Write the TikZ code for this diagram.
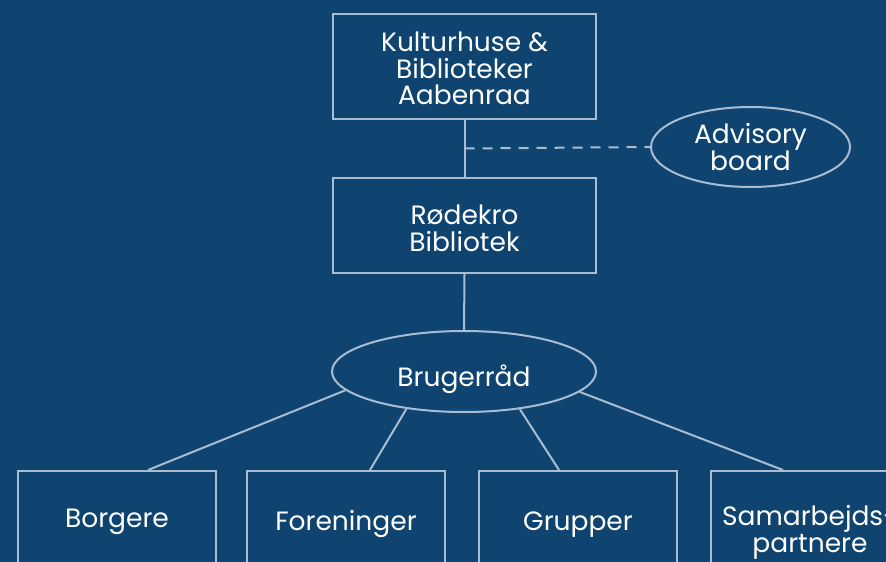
\documentclass[tikz,border=0pt]{standalone}
\usepackage{fontspec}
\setmainfont{Poppins}
\usetikzlibrary{shapes.geometric,calc}
\definecolor{bg}{HTML}{0F4470}
\definecolor{ln}{HTML}{A9BDD2}
\tikzset{
  txt/.style={text=white, font=\fontsize{26.5}{26.5}\selectfont, align=center, inner sep=0pt, text depth=0pt},
  box/.style={txt, draw=ln, line width=2pt, minimum width=263pt},
  lowbox/.style={txt, draw=ln, line width=2pt, minimum width=198pt, minimum height=98pt},
  oval/.style={txt, ellipse, draw=ln, line width=2pt},
  link/.style={draw=ln, line width=2pt}
}
\begin{document}
\begin{tikzpicture}[x=1pt,y=-1pt]
\useasboundingbox (0,0) rectangle (886,562);
\fill[bg] (0,0) rectangle (886,562);
\clip (0,0) rectangle (886,562);
\node[box, minimum height=105pt, text height=76pt] (top) at (464.5,66.5) {Kulturhuse \&\\Biblioteker\\Aabenraa};
\node[box, minimum height=95pt, text height=51pt] (rod) at (464.5,225.5) {Rødekro\\Bibliotek};
\node[oval, minimum width=199pt, minimum height=80pt, text height=46pt] (adv) at (750.5,147) {Advisory\\board};
\node[oval, minimum width=264pt, minimum height=81pt, text height=29pt] (bru) at (464,371.5) {Brugerråd};
\node[lowbox, text height=14.6pt] (b1) at (117,520) {Borgere};
\node[lowbox, text height=20pt] (b2) at (346,520) {Foreninger};
\node[lowbox, text height=20pt] (b3) at (578,520) {Grupper};
\node[lowbox, text height=64pt] (b4) at (810,520) {Samarbejds-\\partnere};
\coordinate (mid) at ($(top.south)!0.5!(rod.north)$);
\draw[link] (top.south) -- (rod.north);
\draw[link, dash pattern=on 10pt off 8pt] (mid) -- (adv.west);
\draw[link] (rod.south) -- (bru.north);
\draw[link] (bru.189.7) -- ($(b1.north)+(31,0)$);
\draw[link] (bru.213.5) -- ($(b2.north)+(24,0)$);
\draw[link] (bru.326.5) -- ($(b3.north)+(-19,0)$);
\draw[link] (bru.350.3) -- ($(b4.north)+(-27,0)$);
\end{tikzpicture}
\end{document}
